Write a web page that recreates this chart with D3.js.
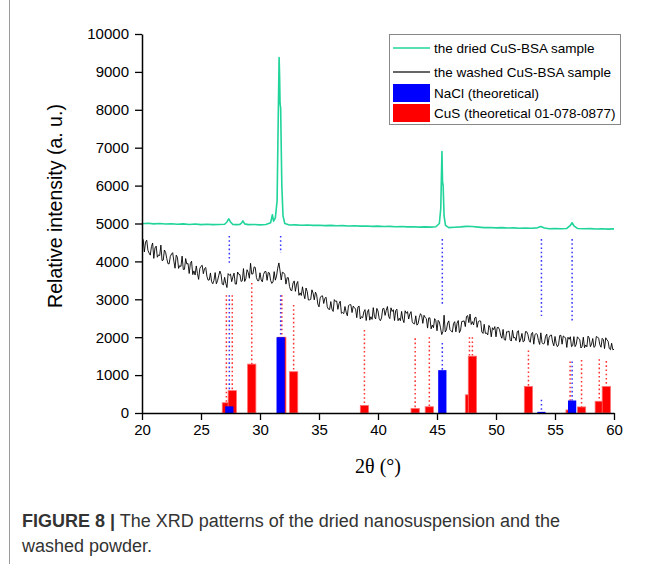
<!DOCTYPE html>
<html><head><meta charset="utf-8">
<script src="https://cdn.jsdelivr.net/npm/d3@7"></script>
<style>body{margin:0;background:#fff}svg{display:block}</style>
</head><body>
<svg id="c" width="654" height="564"></svg>
<script>
// ---------------- DATA ----------------
const xTicks = [20,25,30,35,40,45,50,55,60];
const yTicks = [0,1000,2000,3000,4000,5000,6000,7000,8000,9000,10000];

// washed CuS-BSA sample: 2θ = 20.0, 20.2, ... 60.0
const washedY = [4570,4250,4560,4220,4390,4080,4405,4170,4430,4035,
4240,3940,4130,4230,3820,4110,3890,4140,3790,3930,
3680,4005,3750,3880,3525,3870,3675,3840,3505,3695,
3410,3705,3490,3745,3400,3580,3310,3635,3465,3690,
3400,3660,3470,3810,3540,3710,3950,3670,3840,3490,
3700,3460,3730,3500,3695,3420,3730,3610,3960,3510,
3700,3400,3570,3240,3430,3210,3470,3170,3330,3015,
3210,2985,3250,2985,3120,2800,3085,2890,3055,2740,
2940,2680,2945,2735,2950,2650,2810,2565,2855,2650,
2780,2515,2820,2540,2665,2440,2730,2540,2780,2480,
2690,2435,2750,2575,2810,2490,2680,2440,2740,2500,
2680,2385,2630,2480,2675,2360,2565,2360,2620,2365,
2520,2240,2510,2320,2490,2170,2400,2070,2580,2195,
2430,2165,2360,2140,2440,2190,2420,2280,2570,2610,
2410,2510,2260,2430,2140,2340,2110,2310,2010,2200,
2010,2260,2040,2205,1920,2140,1930,2185,1995,2145,
1870,2100,1900,2145,1920,2090,1815,2100,1910,2115,
1820,2025,1785,2050,1865,2020,1750,2045,1815,2010,
1730,1945,1750,2015,1810,1970,1715,2000,1795,2028,
1750,1965,1760,2005,1800,1970,1700,1930,1700,1840,
1680];
// washed CuS-BSA sample: 2θ = 20.1, 20.3, ... 59.9
const washedYMid = [4580,4510,4295,4165,4485,4355,4110,4155,4020,4300,
4075,3935,4195,4005,4165,3815,3865,3785,4075,3945,
3948,3652,3640,3678,3812,3898,3812,3608,3510,3462,
3502,3408,3622,3658,3380,3425,3678,3665,3592,3405,
3720,3650,3490,3470,3780,3555,3665,3855,3570,3490,
3510,3655,3735,3708,3498,3455,3505,3820,3750,3715,
3655,3570,3340,3230,3485,3400,3105,3100,3142,3298,
2982,2998,3162,3188,2875,3038,3092,3028,2802,2730,
2740,2992,2955,2888,2630,2620,2662,2835,2858,2820,
2742,2798,2480,2512,2728,2660,2450,2470,2540,2760,
2492,2508,2762,2708,2550,2775,2725,2705,2435,2435,
2472,2698,2675,2612,2408,2352,2318,2520,2572,2578,
2490,2510,2220,2250,2440,2445,2245,2150,2138,2372,
2198,2132,2410,2370,2120,2415,2430,2550,2385,2335,
2325,2530,2415,2425,2100,2100,2060,2250,2250,2280,
2255,2195,1972,1938,2145,2165,1898,1980,1910,2172,
1955,1875,2148,2072,1865,2128,2062,2065,1808,1862,
1838,2080,1992,2058,1772,1835,1798,2050,2032,1975,
1998,2012,1778,1752,2010,1932,1758,1722,1746,1979,
1818,1732,2018,1972,1735,1935,1985,1895,1670,1670];

// dried CuS-BSA sample
const driedX = [20,20.5,21,21.5,22,22.5,23,23.5,24,24.5,25,25.5,26,26.5,27,27.2,27.35,27.5,27.7,28,28.3,28.45,28.55,28.7,29,29.5,30,30.5,30.9,31.05,31.15,31.3,31.45,31.55,31.62,31.66,31.7,31.75,31.85,31.95,32.1,32.5,33,33.5,34,34.5,35,35.5,36,36.5,37,37.5,38,38.5,39,39.5,40,40.5,41,41.5,42,42.5,43,43.5,44,44.5,44.9,45.2,45.32,45.42,45.47,45.52,45.6,45.72,46,46.5,47,47.5,48,48.5,49,49.5,50,50.5,51,51.5,52,52.5,53,53.5,53.8,54.1,54.5,55,55.5,56,56.3,56.45,56.6,56.9,57.5,58,58.5,59,59.5,60];
const driedY = [4995,5005,4990,5000,4985,4995,4980,4990,4975,4985,4970,4980,4970,4975,4980,5040,5125,5040,4975,4970,4975,5020,5070,4990,4970,4975,4965,4975,5020,5230,5060,5150,5600,7900,9380,8900,8160,8050,6000,5200,5000,4960,4965,4955,4960,4950,4955,4945,4950,4940,4945,4935,4940,4930,4935,4925,4930,4920,4925,4915,4920,4910,4915,4905,4910,4905,4915,5000,5400,6900,6100,6000,5200,4950,4890,4900,4910,4925,4920,4905,4890,4895,4885,4890,4880,4885,4875,4880,4875,4885,4920,4880,4860,4865,4860,4870,4950,5020,4940,4870,4860,4865,4855,4862,4852,4858];

// NaCl (theoretical)
const naclPos = [27.4, 31.75, 45.45, 53.85, 56.45];
const naclVal = [175, 2000, 1130, 30, 330];
// dotted guides for NaCl: upper segment and lower segment (intensity values)
const naclUpper = [[4670,3960],[4670,4220],[4590,2850],[4590,2560],[4590,2440]];
const naclLowerTop = [3110, 3110, 1850, 350, 1360];

// CuS (theoretical 01-078-0877)
const cusPos = [27.15, 27.65, 29.3, 31.85, 32.85, 38.85, 43.15, 44.35, 47.75, 48.0, 52.75, 56.28, 57.25, 58.75, 59.35];
const cusVal = [270, 590, 1290, 2000, 1090, 200, 120, 165, 480, 1500, 700, 80, 160, 310, 700];
const cusDropTop = [3110, 3110, 3430, 3110, 2850, 2190, 1970, 2000, 2000, 2000, 1650, 1360, 1400, 1420, 1370];

const legendLabels = ["the dried CuS-BSA sample","the washed CuS-BSA sample","NaCl (theoretical)","CuS (theoretical 01-078-0877)"];
const captionBold = "FIGURE 8 |";
const captionLine1 = " The XRD patterns of the dried nanosuspension and the";
const captionLine2 = "washed powder.";

// ---------------- DRAW ----------------
const svg = d3.select("#c");
const green = "#20d49a", blue = "#0000ff", red = "#ff0000";
const x = d3.scaleLinear().domain([20,60]).range([142,614]);
const y = d3.scaleLinear().domain([0,10000]).range([413,34]);
const barW = 0.7;

// frame line on the left
svg.append("line").attr("x1",9.5).attr("x2",9.5).attr("y1",0).attr("y2",564)
  .attr("stroke","#9a9a9a").attr("stroke-width",1);

// dotted guides
const g = svg.append("g");
const dash = "1.6,2.6";
cusPos.forEach((p,i)=>{
  g.append("line").attr("x1",x(p)).attr("x2",x(p)).attr("y1",y(cusDropTop[i])).attr("y2",y(cusVal[i]))
   .attr("stroke","#ff3030").attr("stroke-width",1.5).attr("stroke-dasharray",dash);
});
naclPos.forEach((p,i)=>{
  g.append("line").attr("x1",x(p)).attr("x2",x(p)).attr("y1",y(naclUpper[i][0])).attr("y2",y(naclUpper[i][1]))
   .attr("stroke","#3535ff").attr("stroke-width",1.5).attr("stroke-dasharray",dash);
  g.append("line").attr("x1",x(p)).attr("x2",x(p)).attr("y1",y(naclLowerTop[i])).attr("y2",y(naclVal[i]))
   .attr("stroke","#3535ff").attr("stroke-width",1.5).attr("stroke-dasharray",dash);
});

// bars
svg.append("g").selectAll("rect").data(cusPos).join("rect")
  .attr("x",(d)=>x(d-barW/2)).attr("width",(d)=>x(d+barW/2)-x(d-barW/2))
  .attr("y",(d,i)=>y(cusVal[i])).attr("height",(d,i)=>y(0)-y(cusVal[i]))
  .attr("fill",red).attr("stroke","#ff7070").attr("stroke-width",0.8);
svg.append("g").selectAll("rect").data(naclPos).join("rect")
  .attr("x",(d)=>x(d-barW/2)).attr("width",(d)=>x(d+barW/2)-x(d-barW/2))
  .attr("y",(d,i)=>y(naclVal[i])).attr("height",(d,i)=>y(0)-y(naclVal[i]))
  .attr("fill",blue);

// lines
const washedPts = [];
washedY.forEach((v,i)=>{
  washedPts.push([20+i*0.2, v]);
  if (i < washedYMid.length) washedPts.push([20.1+i*0.2, washedYMid[i]]);
});
const line = d3.line().x(d=>x(d[0])).y(d=>y(d[1]));
svg.append("path").attr("d",line(washedPts)).attr("fill","none").attr("stroke","#000").attr("stroke-width",0.9).attr("stroke-linejoin","round");
const driedPts = driedX.map((v,i)=>[v, driedY[i]]);
svg.append("path").attr("d",line(driedPts)).attr("fill","none").attr("stroke",green).attr("stroke-width",1.6).attr("stroke-linejoin","round");

// axes
const fontAx = "Liberation Sans, Arial, sans-serif";
const xa = svg.append("g").attr("transform","translate(0,413)")
  .call(d3.axisBottom(x).tickValues(xTicks).tickFormat(d3.format("d")).tickSize(7).tickSizeOuter(0).tickPadding(4));
const ya = svg.append("g").attr("transform","translate(142,0)")
  .call(d3.axisLeft(y).tickValues(yTicks).tickFormat(d3.format("d")).tickSize(7).tickSizeOuter(0).tickPadding(6));
[xa,ya].forEach(a=>{
  a.select(".domain").attr("stroke","#000").attr("stroke-width",1.5);
  a.selectAll(".tick line").attr("stroke","#000").attr("stroke-width",1.3);
  a.selectAll("text").attr("font-family",fontAx).attr("font-size",15).attr("fill","#000");
});

// axis titles
svg.append("text").attr("transform","translate(62,206) rotate(-90)").attr("text-anchor","middle")
  .attr("font-family",fontAx).attr("font-size",19.5).text("Relative intensity (a. u.)");
svg.append("text").attr("x",378).attr("y",473).attr("text-anchor","middle")
  .attr("font-family","Liberation Serif, Times New Roman, serif").attr("font-size",20).text("2θ (°)");

// legend
const lg = svg.append("g");
lg.append("rect").attr("x",389.5).attr("y",34.5).attr("width",231).attr("height",90)
  .attr("fill","#fff").attr("stroke","#888").attr("stroke-width",1);
const rowY = [48, 72, 93, 113];
lg.append("line").attr("x1",393).attr("x2",430).attr("y1",rowY[0]).attr("y2",rowY[0]).attr("stroke",green).attr("stroke-width",1.6);
lg.append("line").attr("x1",393).attr("x2",430).attr("y1",rowY[1]).attr("y2",rowY[1]).attr("stroke","#333").attr("stroke-width",1.4);
lg.append("rect").attr("x",393).attr("y",84).attr("width",37).attr("height",18).attr("fill",blue);
lg.append("rect").attr("x",393).attr("y",104).attr("width",37).attr("height",18).attr("fill",red);
legendLabels.forEach((t,i)=>{
  lg.append("text").attr("x",434).attr("y",rowY[i]+5).attr("font-family",fontAx).attr("font-size",13.5).attr("fill","#000").text(t);
});

// caption
const cap = svg.append("text").attr("x",22).attr("y",527).attr("font-family",fontAx).attr("font-size",18).attr("fill","#333");
cap.append("tspan").attr("font-weight","bold").text(captionBold);
cap.append("tspan").text(captionLine1);
svg.append("text").attr("x",22).attr("y",552).attr("font-family",fontAx).attr("font-size",18).attr("fill","#333").text(captionLine2);
</script>
</body></html>
